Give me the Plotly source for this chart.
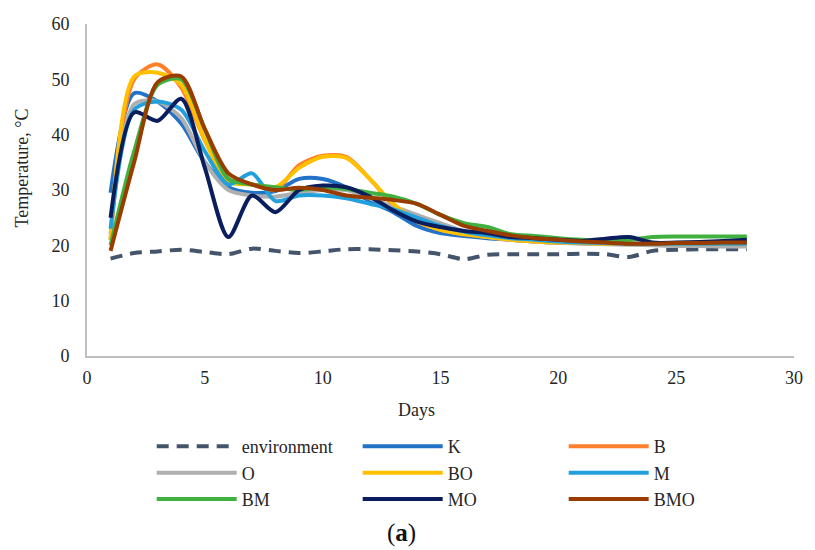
import plotly.graph_objects as go

days = list(range(1, 29))

environment = [17.6, 18.6, 18.9, 19.2, 18.8, 18.4, 19.4, 19.0, 18.6, 18.9, 19.3, 19.3, 19.1, 18.9,
               18.4, 17.5, 18.3, 18.4, 18.4, 18.4, 18.5, 18.4, 17.9, 19.0, 19.2, 19.3, 19.3, 19.3]
K = [29.5, 47.5, 46.0, 42.0, 35.0, 30.5, 29.5, 29.8, 32.0, 32.0, 30.5, 28.0, 26.0, 23.5,
     22.2, 21.7, 21.3, 21.0, 20.7, 20.5, 20.4, 20.3, 20.3, 20.3, 20.3, 20.3, 20.3, 20.3]
B = [21.0, 50.0, 52.7, 48.5, 39.0, 32.0, 31.0, 30.0, 34.5, 36.2, 36.0, 32.0, 27.3, 24.3,
     22.8, 22.0, 21.5, 21.0, 20.7, 20.5, 20.4, 20.3, 20.3, 20.3, 20.3, 20.3, 20.3, 20.3]
O = [22.0, 45.5, 46.0, 43.0, 35.0, 30.0, 29.0, 28.8, 29.5, 30.0, 30.0, 28.5, 27.0, 25.5,
     24.0, 22.5, 21.5, 21.0, 20.7, 20.5, 20.3, 20.2, 20.1, 20.0, 19.9, 19.9, 19.8, 19.8]
BO = [21.0, 50.5, 51.2, 49.0, 39.0, 31.5, 31.0, 30.5, 34.0, 36.0, 35.8, 32.0, 27.5, 24.5,
      22.8, 22.0, 21.5, 21.0, 20.7, 20.5, 20.4, 20.3, 20.3, 20.3, 20.3, 20.3, 20.3, 20.3]
M = [23.0, 44.5, 46.0, 44.5, 37.0, 31.0, 33.0, 28.0, 29.0, 29.0, 28.5, 27.5, 26.5, 25.0,
     23.5, 22.5, 21.8, 21.3, 21.0, 20.7, 20.5, 20.4, 20.3, 20.3, 20.3, 20.3, 20.3, 20.3]
BM = [20.0, 37.0, 49.0, 50.0, 41.0, 32.0, 31.0, 30.5, 30.0, 30.5, 30.2, 29.5, 28.8, 27.5,
      25.5, 24.0, 23.3, 22.0, 21.7, 21.3, 21.0, 20.8, 21.0, 21.5, 21.6, 21.6, 21.6, 21.6]
MO = [25.0, 44.0, 42.5, 46.5, 34.0, 21.5, 29.0, 26.0, 30.0, 30.8, 30.5, 28.8, 26.3, 24.3,
      23.3, 22.6, 22.2, 21.5, 21.3, 21.0, 20.8, 21.2, 21.5, 20.5, 20.5, 20.6, 20.8, 21.0]
BMO = [19.0, 35.0, 49.5, 50.5, 41.0, 33.0, 31.0, 30.0, 30.4, 30.0, 29.0, 28.6, 28.2, 27.5,
       25.5, 23.5, 22.6, 21.8, 21.3, 21.0, 20.7, 20.5, 20.3, 20.3, 20.4, 20.4, 20.5, 20.5]

series = [
    ("environment", environment, "#44546A", "dash"),
    ("K", K, "#2272C8", None),
    ("B", B, "#FF7F2A", None),
    ("O", O, "#AFAFAF", None),
    ("BO", BO, "#FFC000", None),
    ("M", M, "#22A0DC", None),
    ("BM", BM, "#40B040", None),
    ("MO", MO, "#0A1E5E", None),
    ("BMO", BMO, "#993C00", None),
]

fig = go.Figure()
for name, vals, color, dash in series:
    line = dict(color=color, width=4, shape="spline", smoothing=0.8)
    if dash:
        line["dash"] = "12px,8px"
    fig.add_trace(go.Scatter(x=days, y=vals, mode="lines", name=name, line=line))

serif = "Liberation Serif"
txt = "#262626"
fig.update_layout(
    width=815, height=550,
    margin=dict(l=87, r=18, t=24, b=194),
    plot_bgcolor="white", paper_bgcolor="white",
    font=dict(family=serif, size=18, color=txt),
    showlegend=True,
    legend=dict(orientation="h", x=0.0915, xanchor="left", y=-0.217, yanchor="top",
                entrywidth=111, entrywidthmode="pixels", itemwidth=80,
                font=dict(family=serif, size=18, color=txt),
                tracegroupgap=0),
    xaxis=dict(range=[0, 30], tickvals=[0, 5, 10, 15, 20, 25, 30], showgrid=False,
               zeroline=False, showline=True, linecolor="#BFBFBF", linewidth=2,
               ticks="", ticklabelstandoff=4, tickfont=dict(family=serif, size=18, color=txt)),
    yaxis=dict(range=[0, 60], tickvals=[0, 10, 20, 30, 40, 50, 60], showgrid=False,
               zeroline=False, showline=True, linecolor="#BFBFBF", linewidth=2,
               ticks="", ticklabelstandoff=12, tickfont=dict(family=serif, size=18, color=txt)),
    annotations=[
        dict(text="Days", xref="paper", yref="paper", x=0.466, y=-0.163,
             xanchor="center", yanchor="middle",
             showarrow=False, font=dict(family=serif, size=18, color=txt)),
        dict(text="Temperature, °C", xref="paper", yref="paper", x=-0.0915, y=0.566,
             xanchor="center", yanchor="middle",
             textangle=-90, showarrow=False, font=dict(family=serif, size=18, color=txt)),
        dict(text="(<b>a</b>)", xref="paper", yref="paper", x=0.445, y=-0.533,
             xanchor="center", yanchor="middle",
             showarrow=False, font=dict(family=serif, size=25, color="#111111")),
    ],
)

fig.write_html("out.html")
